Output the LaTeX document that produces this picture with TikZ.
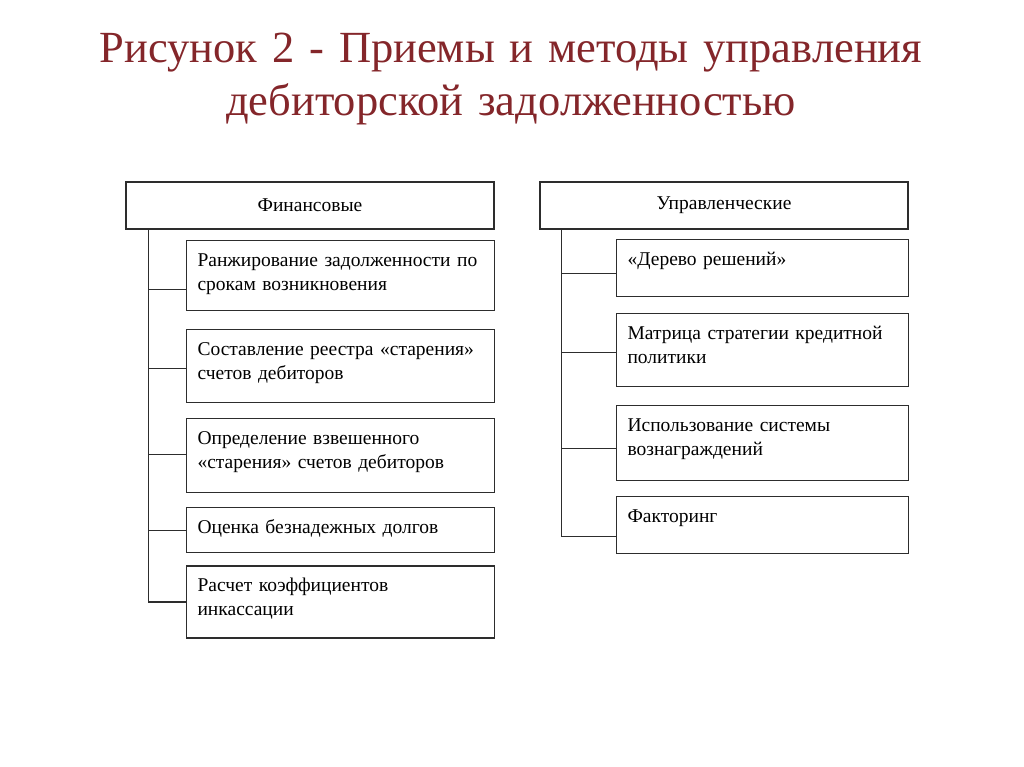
\documentclass[tikz,border=0pt]{standalone}
\usepackage{fontspec}
\setmainfont{Liberation Serif}
\newfontfamily\titlefont{Liberation Serif}
\usepackage{xcolor}
\usepackage{tikz}
\usetikzlibrary{positioning}
\definecolor{titlered}{RGB}{132,38,42}
\definecolor{framegray}{RGB}{45,45,45}
\tikzset{x=1pt, y=-1pt,
         head/.style={draw=framegray, line width=1.1pt, minimum width=368pt, minimum height=47pt,
                      font=\fontsize{19.5}{24}\selectfont},
         method/.style={draw=framegray, line width=1.1pt, anchor=north west, align=left,
                        text width=286pt, inner xsep=11pt, inner ysep=0pt, text height=26pt,
                        font=\fontsize{19.5}{24}\selectfont},
         link/.style={draw=framegray, line width=1.1pt},
         }

\begin{document}
\begin{tikzpicture}
    \fill[white] (0,0) rectangle (1024,767);
    \useasboundingbox (0,0) rectangle (1024,767);

    \node[anchor=base, align=center, text width=1000pt, text=titlered,
          font=\titlefont\fontsize{44.5}{53}\selectfont] (title) at (511,63)
          {Рисунок 2 - Приемы и методы управления\\дебиторской задолженностью};

    % financial methods
    \node[head] (fin) at (310,205.5) {Финансовые};
    \node[method, text depth=44pt] (f1) at (186,240) {Ранжирование задолженности по\\срокам возникновения};
    \node[method, text depth=47pt, below=18pt of f1.south west, anchor=north west] (f2) {Составление реестра «старения»\\счетов дебиторов};
    \node[method, text depth=48pt, below=15pt of f2.south west, anchor=north west] (f3) {Определение взвешенного\\«старения» счетов дебиторов};
    \node[method, text depth=19pt, below=14pt of f3.south west, anchor=north west] (f4) {Оценка безнадежных долгов};
    \node[method, text depth=46pt, below=12pt of f4.south west, anchor=north west] (f5) {Расчет коэффициентов\\инкассации};

    % management methods
    \node[head] (mgt) at (724,205.5) {Управленческие};
    \node[method, text width=270pt, text depth=31pt] (m1) at (616,239) {«Дерево решений»};
    \node[method, text width=270pt, text depth=47pt, below=16pt of m1.south west, anchor=north west] (m2) {Матрица стратегии кредитной\\политики};
    \node[method, text width=270pt, text depth=49pt, below=18pt of m2.south west, anchor=north west] (m3) {Использование системы\\вознаграждений};
    \node[method, text width=270pt, text depth=31pt, below=15pt of m3.south west, anchor=north west] (m4) {Факторинг};

    \coordinate (ftrunk) at ([xshift=23pt]fin.south west);
    \coordinate (mtrunk) at ([xshift=22pt]mgt.south west);

    \draw[link] (ftrunk) |- ([yshift=-14pt]f1.west)
                (ftrunk) |- ([yshift=-2pt]f2.west)
                (ftrunk) |- ([yshift=1pt]f3.west)
                (ftrunk) |- (f4.west)
                (ftrunk) |- (f5.west);
    \draw[link] (mtrunk) |- ([yshift=-5pt]m1.west)
                (mtrunk) |- ([yshift=-2pt]m2.west)
                (mtrunk) |- ([yshift=-5pt]m3.west)
                (mtrunk) |- ([yshift=-11pt]m4.west);
\end{tikzpicture}
\end{document}
